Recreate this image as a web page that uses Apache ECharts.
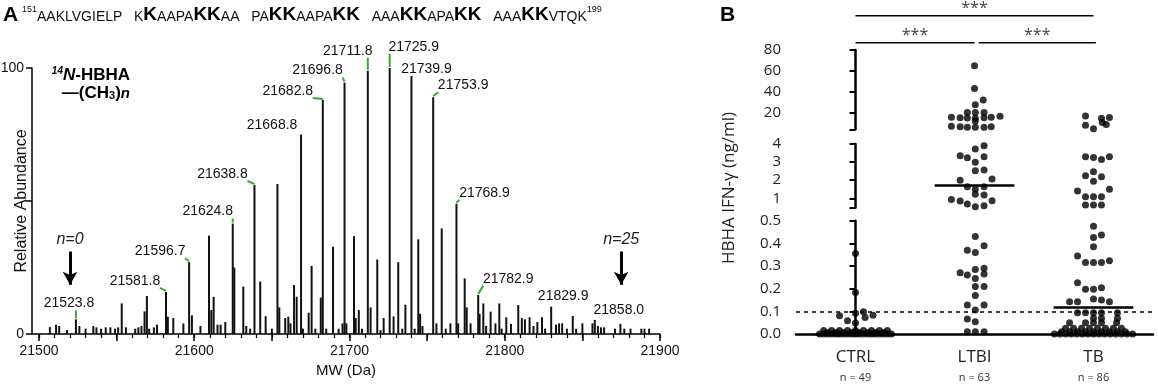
<!DOCTYPE html>
<html>
<head>
<meta charset="utf-8">
<title>HBHA methylation and IFN-gamma</title>
<script src="https://cdn.jsdelivr.net/npm/echarts@6/dist/echarts.min.js"></script>
<style>
  html, body { margin: 0; padding: 0; background: #fff; }
  #chart { width: 1158px; height: 387px; }
</style>
</head>
<body>
<div id="chart"></div>
<script>
// ---------- panel A : deconvoluted mass spectrum ----------
const peakMass = [
  21507, 21511, 21513, 21518, 21523.8, 21526, 21530, 21535, 21537, 21540, 21543, 21546, 21549, 21551,
  21553.3, 21556, 21562, 21564, 21566, 21568, 21569.5, 21571, 21574, 21576, 21581.8, 21583, 21586.5,
  21593, 21596.7, 21598.5, 21604, 21609.5, 21611, 21612.5, 21615, 21617, 21620, 21624.8, 21625.8,
  21631.6, 21633.5, 21636, 21638.8, 21642.5, 21646, 21650, 21653.6, 21654.8, 21658.6, 21660.6, 21662,
  21664.3, 21666, 21668.8, 21670, 21673.7, 21675.6, 21678, 21681.5, 21682.8, 21685, 21689.4, 21693,
  21695.5, 21696.8, 21698, 21702.9, 21704, 21706, 21708, 21711.8, 21713.6, 21717.9, 21720, 21722,
  21725.9, 21728.4, 21731.4, 21734, 21736, 21739.9, 21742, 21744.3, 21745.5, 21747, 21753.9, 21756,
  21759.4, 21762, 21765, 21768.9, 21770, 21774.2, 21775.5, 21778, 21782.9, 21783.8, 21786.2, 21788,
  21790.9, 21794, 21796.5, 21798, 21801, 21804, 21808.7, 21811, 21813, 21816, 21818.5, 21821, 21824,
  21826, 21829.9, 21833, 21835, 21837, 21840, 21843.8, 21846, 21850, 21856.5, 21858.0, 21860, 21862,
  21864, 21871, 21874.5, 21877, 21881, 21888, 21890, 21893
];
const peakAbundance = [
  2.6, 3.5, 3, 1.5, 5.5, 3, 2, 3, 2.5, 2, 2.5, 2.5, 2, 2.5,
  11.5, 2.5, 2, 2.5, 3, 8.5, 14.3, 2, 2.5, 3.5, 15.8, 6.5, 6,
  4, 27, 7, 3, 37, 9, 14, 3.5, 3.5, 4.5, 41.5, 25,
  17.8, 3, 2, 56, 19.7, 6.7, 2, 56.4, 10, 6, 6.5, 4,
  18.4, 14, 75, 2, 8, 25.6, 2, 13.7, 88, 2, 32.8, 2,
  4, 94.5, 4, 36.8, 6, 9, 2, 99, 10, 28, 1.5, 6,
  100, 6.6, 27, 2, 11, 97, 2, 35.6, 7.6, 3, 89, 4,
  39.7, 2, 4, 49, 4, 20.9, 10, 4, 14.7, 7.6, 11.5, 3,
  8.4, 4, 11.5, 2, 6.3, 3.8, 10.9, 6, 5.5, 6.3, 3, 4.5, 6.3,
  2, 10.3, 3.5, 4, 4, 2, 6.8, 2, 4, 4, 5.3, 3, 2.5,
  2.5, 2, 3.8, 2, 2, 2, 2, 2
];
const labeledMass = [21523.8, 21581.8, 21596.7, 21624.8, 21638.8, 21668.8, 21682.8, 21696.8,
  21711.8, 21725.9, 21739.9, 21753.9, 21768.9, 21782.9, 21829.9, 21858.0];
const labeledAbundance = [5.5, 15.8, 27, 41.5, 56, 75, 88, 94.5, 99, 100, 97, 89, 49, 14.7, 10.3, 5.3];
const massTicks = [21500, 21550, 21600, 21650, 21700, 21750, 21800, 21850, 21900];
const massLabels = [21500, 21600, 21700, 21800, 21900];
const arrowMass = [21520, 21875];
const arrowText = ['n=0', 'n=25'];

// label placement (px offsets of the label centre from the peak top)
const labelDx = [-7, -31, -29, -25, -32, -29, -35, -27, -20, 24, 15, 30, 28, 30, 12, 24];
const labelDy = [-16, -11, -11, -12, -11, -9, -9, -12, -20, -21, -7, -12, -11, -16, -10, -10];

// ---------- panel B : HBHA IFN-gamma per group ----------
const groups = ['CTRL', 'LTBI', 'TB'];
const groupN = [49, 63, 86];

const ctrlValues = [
  0.355, 0.183, 0.098, 0.092, 0.083, 0.080, 0.073, 0.058, 0.048,
  0.015, 0.015, 0.015, 0.015, 0.015, 0.015, 0.015, 0.015, 0.015,
  0.007, 0.007, 0.007, 0.007, 0.007, 0.007, 0.007, 0.007,
  0, 0, 0, 0, 0, 0, 0, 0, 0, 0, 0, 0, 0, 0, 0, 0, 0, 0, 0,
  0.003, 0.003, 0.003, 0.003
];
const ctrlSlots = [
  0, 0, 1, 0, 2.2, -2, 1.2, -1, 0,
  -4, -3, -2, -1, 0, 1, 2, 3, 4,
  -3.5, -2.5, -1.5, -0.5, 0.5, 1.5, 2.5, 3.5,
  -4.5, -4, -3.5, -3, -2.5, -2, -1.5, -1, -0.5, 0, 0.5, 1, 1.5, 2, 2.5, 3, 3.5, 4, 4.5,
  -2.25, -0.25, 0.25, 2.25
];

const ltbiValues = [
  64.8, 43, 32, 27.6, 20, 20, 20, 15.5, 15, 14.9, 14.5, 15, 15.5, 16.5, 12, 7, 6.5, 6, 6, 6, 6.5,
  3.9, 3.72, 3.35, 3.24, 3.3, 2.99, 2.53, 2.56, 2.0, 2.07, 1.64, 1.5, 1.64, 1.22, 1.18, 0.94, 0.85,
  0.69, 0.54, 0.59, 0.87,
  0.43, 0.39, 0.37, 0.36, 0.29, 0.285, 0.27, 0.26, 0.265, 0.245, 0.21, 0.21, 0.17, 0.128, 0.128,
  0.106, 0.066, 0.054, 0.01, 0.01, 0.01
];
const ltbiSlots = [
  0, 0, 1.1, 0.1, -0.9, 0.1, 1.2, -2.9, -1.8, -0.9, 0.1, 1.2, 2.1, 3.2, 0.1, -2.9, -1.8, -0.9, 0.1, 1.2, 2.1,
  1.2, 0.1, -1.8, -0.9, 1.2, 0.1, 0.1, 1.2, -1.8, 2.2, -0.9, 0.1, 1.2, 0.1, 1.2, -2.9, -1.8,
  -0.9, 0.1, 1.2, 2.2,
  0.1, 1.2, -0.9, 0.1, 1.2, 0.1, -1.8, -0.9, 1.2, 0.1, 0.1, 1.2, 0.1, -0.9, 1.2,
  0.1, -0.9, 0.1, -0.9, 0.1, 1.2
];

const tbValues = [
  16.8, 14.6, 15.2, 7.8, 10.5, 8.6, 4.6,
  3.26, 3.15, 3.3, 3.3, 2.47, 2.25, 2.19, 1.95, 1.4, 1.5, 1.09, 1.09, 1.09, 0.63, 0.63, 0.63,
  0.476, 0.437, 0.426, 0.385, 0.344, 0.316, 0.316, 0.316, 0.323, 0.226, 0.197, 0.197, 0.204,
  0.142, 0.142, 0.142, 0.154, 0.15,
  0.094, 0.094, 0.094, 0.094, 0.094, 0.069, 0.069, 0.069, 0.05, 0.05, 0.05, 0.05, 0.05,
  0.025, 0.025, 0.025, 0.025, 0.025, 0.025, 0.025, 0.025,
  0.01, 0.01, 0.01, 0.01, 0.01, 0.01, 0.01, 0.01, 0.01,
  0, 0, 0, 0, 0, 0, 0, 0, 0, 0, 0, 0, 0, 0, 0
];
const tbSlots = [
  -1, 1, 2, -1, 1.1, 1.6, 0,
  0, 1, 2, -1, 0, -1, 1, 0, -2, 2, -1, 0, 1, -1, 0, 1,
  0, 1, 0, 0, -2, -1, 0, 1, 2, -2, -1, 0, 1,
  -3, -2, 2, 0, 1,
  -2, -1, 0, 1, 3, 0, 1, 3, -3, -1, 0, 1, 2.9,
  -3.5, -2.5, -1.5, -0.5, 0.5, 1.5, 2.5, 3.5,
  -4, -3, -2, -1, 0, 1, 2, 3, 4,
  -4.9, -4.2, -3.5, -2.8, -2.1, -1.4, -0.7, 0, 0.7, 1.4, 2.1, 2.8, 3.5, 4.2, 4.9
];

const medians = [0, 1.75, 0.12];
const cutoff = 0.1;
const sigFrom = [0, 0, 1.035];
const sigTo = [2, 1, 2.02];
const sigRow = [1, 0, 0];
const sigText = '***';

// ---------- build ----------
const FONT_A = 'Liberation Sans, Arial, sans-serif';
const FONT_B = 'Open Sans, Noto Sans, sans-serif';
const GREEN = '#3aa935';
const SLOT = 0.067; // one dot width, in category units
const HALF_MEDIAN = 0.335;

const groupValues = [ctrlValues, ltbiValues, tbValues];
const groupSlots = [ctrlSlots, ltbiSlots, tbSlots];

function segOf(v) {
  return v >= 4.2 ? 0 : (v > 0.5 ? 1 : 2);
}

const segPoints = [[], [], []];
groupValues.forEach((vals, g) => {
  vals.forEach((v, i) => {
    segPoints[segOf(v)].push([g + groupSlots[g][i] * SLOT, v]);
  });
});

const segMarks = [[], [], []];
segMarks[2].push({ yAxis: cutoff, lineStyle: { type: [4, 4], width: 1.5, color: '#000' } });
medians.forEach((m, g) => {
  segMarks[segOf(m)].push([
    { coord: [g - HALF_MEDIAN, m], lineStyle: { type: 'solid', width: 2.5, color: '#000' } },
    { coord: [g + HALF_MEDIAN, m] }
  ]);
});

const minorTicks = [];
for (let m = 21500; m <= 21900; m += 10) minorTicks.push(m);

const bLeft = 796;
const bWidth = 357;

const bAxisLine = { show: true, lineStyle: { color: '#000', width: 2.5 } };
const bTick = { show: true, length: 6, lineStyle: { color: '#000', width: 2 } };
const bLabel = { color: '#222', fontSize: 15, fontFamily: FONT_B, margin: 15 };
const hiddenX = { type: 'value', min: -0.5, max: 2.5, show: false };

// peak label with its green leader line
function renderPeakLabel(params, api) {
  const i = params.dataIndex;
  const p = api.coord([api.value(0), api.value(1)]);
  const cx = p[0] + labelDx[i];
  const cy = p[1] + labelDy[i];
  const w = 50, h = 12;
  const qx = Math.min(Math.max(p[0], cx - w / 2), cx + w / 2);
  const qy = Math.min(Math.max(p[1], cy - h / 2), cy + h / 2);
  const children = [{
    type: 'text',
    style: {
      text: api.value(0).toFixed(1), x: cx, y: cy,
      align: 'center', verticalAlign: 'middle',
      font: '14px ' + FONT_A, fill: '#111'
    }
  }];
  if (Math.hypot(p[0] - qx, p[1] - qy) > 5) {
    children.push({
      type: 'line',
      shape: { x1: qx, y1: qy + (qy > cy ? 1 : 0), x2: p[0], y2: p[1] - 1 },
      style: { stroke: GREEN, lineWidth: 2 }
    });
  }
  return { type: 'group', children };
}

const chart = echarts.init(document.getElementById('chart'), null, { renderer: 'canvas' });

chart.setOption({
  animation: false,
  backgroundColor: '#fff',
  grid: [
    { left: 32, top: 68, width: 628, height: 266, outerBoundsMode: 'none' },
    { left: bLeft, top: 50, width: bWidth, height: 79.3, outerBoundsMode: 'none' },
    { left: bLeft, top: 144, width: bWidth, height: 63.4, outerBoundsMode: 'none' },
    { left: bLeft, top: 220.7, width: bWidth, height: 113.3, outerBoundsMode: 'none' },
    { left: bLeft, top: 15.7, width: bWidth, height: 27, outerBoundsMode: 'none' }
  ],
  xAxis: [
    {
      gridIndex: 0, type: 'value', position: 'bottom', min: 21495.5, max: 21900,
      axisLine: { show: true, lineStyle: { color: '#000', width: 1.5 } },
      axisTick: { show: true, customValues: massTicks, length: 7, lineStyle: { color: '#000', width: 1.5 } },
      axisLabel: { customValues: massLabels, formatter: v => String(v), margin: 10, fontSize: 14, color: '#111', fontFamily: FONT_A },
      splitLine: { show: false },
      name: 'MW (Da)', nameLocation: 'middle', nameGap: 27,
      nameTextStyle: { fontSize: 15, color: '#111', fontFamily: FONT_A }
    },
    {
      gridIndex: 0, type: 'value', position: 'bottom', min: 21495.5, max: 21900,
      axisLine: { show: false },
      axisTick: { show: true, customValues: minorTicks, length: 4, lineStyle: { color: '#000', width: 1.2 } },
      axisLabel: { show: false },
      splitLine: { show: false }
    },
    Object.assign({ gridIndex: 1 }, hiddenX),
    Object.assign({ gridIndex: 2 }, hiddenX),
    Object.assign({ gridIndex: 3 }, hiddenX),
    {
      gridIndex: 3, type: 'category', position: 'bottom', data: groups, boundaryGap: true,
      axisLine: bAxisLine,
      axisTick: { show: false },
      axisLabel: {
        interval: 0, margin: 12,
        formatter: (v, i) => '{g|' + v + '}\n{n|n = ' + groupN[i] + '}',
        rich: {
          g: { fontSize: 17, lineHeight: 22, color: '#222', fontFamily: FONT_B },
          n: { fontSize: 11, lineHeight: 20, color: '#333', fontFamily: FONT_B }
        }
      }
    },
    Object.assign({ gridIndex: 4 }, hiddenX)
  ],
  yAxis: [
    {
      gridIndex: 0, type: 'value', min: 0, max: 100, interval: 50,
      axisLine: { show: true, lineStyle: { color: '#000', width: 1.5 } },
      axisTick: { show: true, length: 6, lineStyle: { color: '#000', width: 1.5 } },
      axisLabel: { formatter: v => (v === 50 ? '' : v), margin: 8, fontSize: 14, color: '#111', fontFamily: FONT_A },
      splitLine: { show: false }
    },
    {
      gridIndex: 1, type: 'value', min: 4, max: 80,
      axisLine: bAxisLine,
      axisTick: Object.assign({ customValues: [4, 20, 40, 60, 80] }, bTick),
      axisLabel: Object.assign({ customValues: [20, 40, 60, 80] }, bLabel),
      splitLine: { show: false }
    },
    {
      gridIndex: 2, type: 'value', min: 0.5, max: 4,
      axisLine: bAxisLine,
      axisTick: Object.assign({ customValues: [0.5, 1, 2, 3, 4] }, bTick),
      axisLabel: Object.assign({ customValues: [1, 2, 3, 4] }, bLabel),
      splitLine: { show: false }
    },
    {
      gridIndex: 3, type: 'value', min: 0, max: 0.5, interval: 0.1,
      axisLine: bAxisLine,
      axisTick: bTick,
      axisLabel: Object.assign({ formatter: v => v.toFixed(1) }, bLabel),
      splitLine: { show: false }
    },
    { gridIndex: 4, type: 'value', min: 0, max: 1, show: false }
  ],
  graphic: [
    { type: 'text', left: 3, top: 5, style: { text: 'A', font: 'bold 21px ' + FONT_A, fill: '#000' } },
    {
      type: 'text', x: 22, y: 24,
      style: {
        text: '{s|151}{r|AAKLVGIELP   K}{b|K}{r|AAPA}{b|KK}{r|AA   PA}{b|KK}{r|AAPA}{b|KK}{r|   AAA}{b|KK}{r|APA}{b|KK}{r|   AAA}{b|KK}{r|VTQK}{s|199}',
        verticalAlign: 'bottom',
        fill: '#111',
        rich: {
          s: { fontSize: 9, fontFamily: FONT_A, verticalAlign: 'top', fill: '#111' },
          r: { fontSize: 14, fontFamily: FONT_A, verticalAlign: 'bottom', fill: '#111' },
          b: { fontSize: 19, fontWeight: 'bold', fontFamily: FONT_A, verticalAlign: 'bottom', fill: '#000' }
        }
      }
    },
    {
      type: 'text', x: 22, y: 201, rotation: Math.PI / 2,
      style: { text: 'Relative Abundance', align: 'center', verticalAlign: 'middle', font: '16px ' + FONT_A, fill: '#111' }
    },
    {
      type: 'text', x: 130, y: 75,
      style: {
        text: '{sp|14}{n|N}{b|-HBHA}',
        align: 'right', verticalAlign: 'middle',
        rich: {
          sp: { fontSize: 10, fontWeight: 'bold', fontStyle: 'italic', fontFamily: FONT_A, verticalAlign: 'top', fill: '#000' },
          n: { fontSize: 17, fontWeight: 'bold', fontStyle: 'italic', fontFamily: FONT_A, fill: '#000' },
          b: { fontSize: 17, fontWeight: 'bold', fontFamily: FONT_A, fill: '#000' }
        }
      }
    },
    {
      type: 'text', x: 130, y: 93,
      style: {
        text: '{b|\u2014(CH}{sb|3}{b|)}{n|n}',
        align: 'right', verticalAlign: 'middle',
        rich: {
          b: { fontSize: 17, fontWeight: 'bold', fontFamily: FONT_A, verticalAlign: 'bottom', fill: '#000' },
          sb: { fontSize: 11, fontWeight: 'bold', fontFamily: FONT_A, verticalAlign: 'bottom', fill: '#000' },
          n: { fontSize: 15, fontWeight: 'bold', fontStyle: 'italic', fontFamily: FONT_A, verticalAlign: 'bottom', fill: '#000' }
        }
      }
    },
    { type: 'text', left: 720, top: 5, style: { text: 'B', font: 'bold 21px ' + FONT_A, fill: '#000' } },
    {
      type: 'text', x: 729, y: 188, rotation: Math.PI / 2,
      style: { text: 'HBHA IFN-\u03b3 (ng/ml)', align: 'center', verticalAlign: 'middle', font: '17px ' + FONT_B, fill: '#222' }
    }
  ],
  series: [
    {
      type: 'bar', xAxisIndex: 0, yAxisIndex: 0, barWidth: 2,
      itemStyle: { color: '#111' },
      data: peakMass.map((m, i) => [m, peakAbundance[i]]),
      markLine: {
        silent: true,
        symbol: ['none', 'arrow'],
        symbolSize: [11, 13],
        lineStyle: { color: '#000', width: 3, type: 'solid' },
        label: { show: true, position: 'start', distance: 4, formatter: p => p.name, fontSize: 16, fontStyle: 'italic', color: '#222', fontFamily: FONT_A },
        data: arrowMass.map((m, i) => [{ coord: [m, 31], name: arrowText[i] }, { coord: [m, 18.5] }])
      }
    },
    {
      type: 'custom', xAxisIndex: 0, yAxisIndex: 0, clip: false, silent: true, z: 5,
      data: labeledMass.map((m, i) => [m, labeledAbundance[i]]),
      renderItem: renderPeakLabel
    },
    ...segPoints.map((pts, s) => ({
      type: 'scatter', xAxisIndex: 2 + s, yAxisIndex: 1 + s,
      symbolSize: 7, clip: false, silent: true,
      itemStyle: { color: '#000' },
      data: pts,
      markLine: {
        silent: true, symbol: ['none', 'none'],
        label: { show: false },
        data: segMarks[s]
      }
    })),
    {
      type: 'custom', xAxisIndex: 6, yAxisIndex: 4, clip: false, silent: true,
      data: sigFrom.map((f, i) => [f, sigTo[i], sigRow[i]]),
      renderItem: (params, api) => {
        const p0 = api.coord([api.value(0), api.value(2)]);
        const p1 = api.coord([api.value(1), api.value(2)]);
        return {
          type: 'group',
          children: [
            { type: 'line', shape: { x1: p0[0], y1: p0[1], x2: p1[0], y2: p1[1] }, style: { stroke: '#000', lineWidth: 1.5 } },
            {
              type: 'text',
              style: {
                text: sigText, x: (p0[0] + p1[0]) / 2, y: p0[1] + 1,
                align: 'center', verticalAlign: 'bottom',
                font: '16px ' + FONT_B, fill: '#444'
              }
            }
          ]
        };
      }
    }
  ]
});
</script>
</body>
</html>
